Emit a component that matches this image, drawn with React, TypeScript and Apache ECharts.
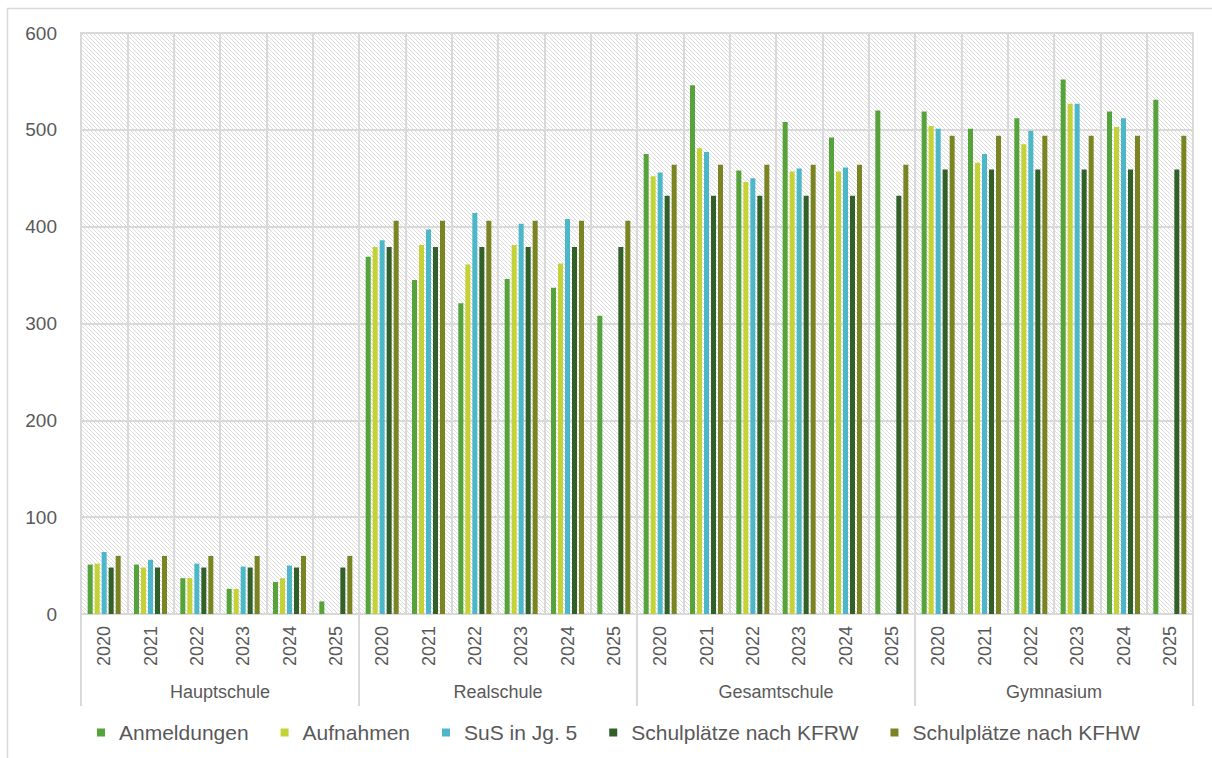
import React, { useEffect, useRef } from "react";
import * as echarts from "echarts";

const groups = ["Hauptschule", "Realschule", "Gesamtschule", "Gymnasium"];
const years = ["2020", "2021", "2022", "2023", "2024", "2025"];
const seriesNames = [
  "Anmeldungen",
  "Aufnahmen",
  "SuS in Jg. 5",
  "Schulplätze nach KFRW",
  "Schulplätze nach KFHW",
];
const colors = ["#55a33a", "#c5d237", "#4cb7c9", "#316128", "#7b8423"];
const yTicks = { min: 0, max: 600, interval: 100 };

const anmeldungen = [51, 51, 37, 26, 33, 13, 369, 345, 321, 346, 337, 308, 475, 546, 458, 508, 492, 520, 519, 501, 512, 552, 519, 531];
const aufnahmen = [52, 48, 37, 26, 37, null, 379, 381, 361, 381, 362, null, 452, 481, 446, 457, 457, null, 504, 466, 485, 527, 503, null];
const susJg5 = [64, 56, 52, 49, 50, null, 386, 397, 414, 403, 408, null, 456, 477, 450, 460, 461, null, 501, 475, 499, 527, 512, null];
const kfrw = [48, 48, 48, 48, 48, 48, 379, 379, 379, 379, 379, 379, 432, 432, 432, 432, 432, 432, 459, 459, 459, 459, 459, 459];
const kfhw = [60, 60, 60, 60, 60, 60, 406, 406, 406, 406, 406, 406, 464, 464, 464, 464, 464, 464, 494, 494, 494, 494, 494, 494];

const seriesData = [anmeldungen, aufnahmen, susJg5, kfrw, kfhw];

function makeHatch(): string {
  const c = document.createElement("canvas");
  c.width = 4;
  c.height = 4;
  const ctx = c.getContext("2d");
  if (ctx) {
    ctx.fillStyle = "#ffffff";
    ctx.fillRect(0, 0, 4, 4);
    ctx.fillStyle = "#dcdcdc";
    for (let i = 0; i < 4; i++) ctx.fillRect(i, i, 1, 1);
  }
  return c.toDataURL();
}

export default function App() {
  const ref = useRef<HTMLDivElement>(null);
  useEffect(() => {
    if (!ref.current) return;
    const chart = echarts.init(ref.current, null, { renderer: "svg" });
    const categories: string[] = [];
    groups.forEach(() => years.forEach((y) => categories.push(y)));
    const textColor = "#595959";
    const lineColor = "#d9d9d9";
    const font = "'Liberation Sans', Arial, sans-serif";
    chart.setOption({
      animation: false,
      backgroundColor: "#ffffff",
      textStyle: { fontFamily: font },
      graphic: [
        {
          type: "rect",
          shape: { x: 7.5, y: 8.5, width: 1240, height: 790 },
          style: { fill: "none", stroke: lineColor, lineWidth: 1.5 },
          silent: true,
          z: -10,
        },
      ],
      grid: {
        left: 81,
        right: 19,
        top: 33,
        bottom: 144,
        show: true,
        backgroundColor: {
          image: makeHatch(),
          repeat: "repeat",
          imageWidth: 4,
          imageHeight: 4,
        },
        borderColor: lineColor,
        borderWidth: 2,
      },
      legend: {
        data: seriesNames,
        left: 92,
        top: 717,
        icon: "rect",
        itemWidth: 8,
        itemHeight: 8,
        itemGap: 32,
        textStyle: { fontSize: 21, color: textColor, fontFamily: font, padding: [0, 0, 0, 9] },
      },
      xAxis: [
        {
          type: "category",
          data: categories,
          position: "bottom",
          axisLine: { lineStyle: { color: lineColor, width: 2 } },
          axisTick: { show: false },
          axisLabel: { rotate: 90, fontSize: 18, color: textColor, margin: 12, interval: 0, fontFamily: font },
          splitLine: { show: true, interval: 0, lineStyle: { color: lineColor, width: 2 } },
        },
        {
          type: "category",
          data: groups,
          position: "bottom",
          axisLine: { show: false },
          axisTick: { show: true, length: 92, interval: 0, lineStyle: { color: lineColor, width: 2 } },
          axisLabel: { fontSize: 18, color: textColor, margin: 69, interval: 0, fontFamily: font },
          splitLine: { show: false },
        },
      ],
      yAxis: {
        type: "value",
        min: yTicks.min,
        max: yTicks.max,
        interval: yTicks.interval,
        axisLine: { show: false },
        axisTick: { show: false },
        axisLabel: { fontSize: 19, color: textColor, margin: 24, fontFamily: font },
        splitLine: { lineStyle: { color: lineColor, width: 2 } },
      },
      series: seriesNames.map((name, i) => ({
        name,
        type: "bar",
        xAxisIndex: 0,
        data: seriesData[i],
        barWidth: 5,
        barGap: "40%",
        itemStyle: { color: colors[i] },
      })),
    });
    return () => chart.dispose();
  }, []);
  return (
    <div
      ref={ref}
      style={{ position: "absolute", left: 0, top: 0, width: 1212, height: 758 }}
    />
  );
}
